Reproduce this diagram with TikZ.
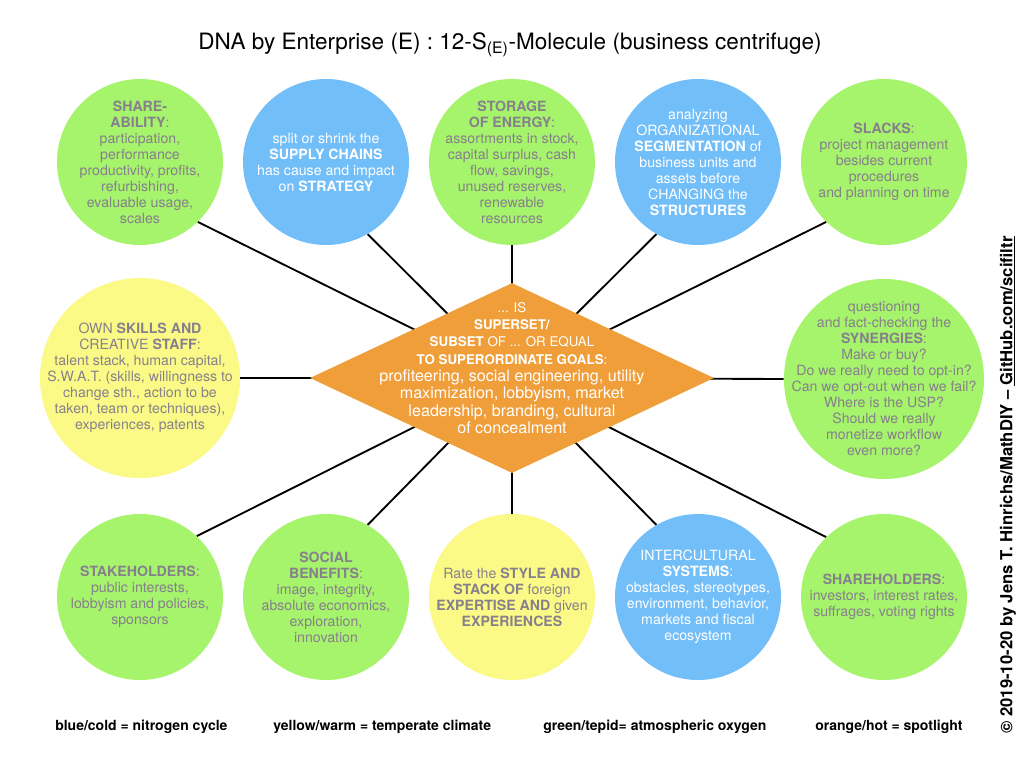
\documentclass[tikz,border=0pt]{standalone}
\usepackage{fontspec}
\setmainfont{TeX Gyre Heros}
\usetikzlibrary{shapes.geometric}
\pgfdeclarelayer{background}
\pgfsetlayers{background,main}
\definecolor{leaf}{RGB}{166,243,108}
\definecolor{sky}{RGB}{114,190,248}
\definecolor{sun}{RGB}{252,250,134}
\definecolor{amber}{RGB}{240,158,58}
\definecolor{ink}{RGB}{134,128,140}
\newcommand*\smallline{\fontsize{10}{13}\selectfont}
\newcommand*\bigline{\fontsize{12.1}{13.3}\selectfont}
\tikzset{
  disc/.style={circle, draw=none, inner sep=0pt, minimum size=124.5pt},
  bigdisc/.style={disc, minimum size=150pt},
  txt/.style={align=center, font=\fontsize{10.6}{12}\selectfont, text=ink, inner sep=0pt},
  wtxt/.style={txt, text=white},
  link/.style={line width=1.4pt, black},
  legend/.style={anchor=west, font=\fontsize{10.5}{12}\selectfont\bfseries, inner sep=0pt}
}
\begin{document}
\begin{tikzpicture}[x=0.75pt, y=-0.75pt]
\begin{pgfonlayer}{background}
  \fill[white] (0,0) rectangle (1024,768);
\end{pgfonlayer}
\useasboundingbox (0,0) rectangle (1024,768);

% title
\node[font=\fontsize{16.9}{20}\selectfont, inner sep=0pt] (title) at (510,45)
  {DNA by Enterprise (E) : 12-S\textsubscript{(E)}-Molecule (business centrifuge)};

% central diamond
\node[diamond, fill=amber, inner sep=0pt, minimum width=303pt, minimum height=142.5pt] (D) at (512,378) {};
\node[align=center, text=white, inner sep=0pt, font=\smallline] (Dt) at (512,368)
  {\smallline ... IS\\
   \smallline\textbf{SUPERSET/}\\
   \smallline\textbf{SUBSET} OF ... OR EQUAL\\
   \smallline\textbf{TO SUPERORDINATE GOALS}:\\
   \bigline profiteering, social engineering, utility\\
   \bigline maximization, lobbyism, market\\
   \bigline leadership, branding, cultural\\
   \bigline of concealment};

% top row
\node[disc, fill=leaf] (sh) at (140,162) {};
\node[txt] (sht) at (sh) {\textbf{SHARE-}\\\textbf{ABILITY}:\\participation,\\performance\\productivity, profits,\\refurbishing,\\evaluable usage,\\scales};

\node[disc, fill=sky] (sc) at (326,162) {};
\node[wtxt] (sct) at (sc) {split or shrink the\\\textbf{SUPPLY CHAINS}\\has cause and impact\\on \textbf{STRATEGY}};

\node[disc, fill=leaf] (st) at (512,162) {};
\node[txt] (stt) at (st) {\textbf{STORAGE}\\\textbf{OF ENERGY}:\\assortments in stock,\\capital surplus, cash\\flow, savings,\\unused reserves,\\renewable\\resources};

\node[disc, fill=sky] (sg) at (698,162) {};
\node[wtxt] (sgt) at (sg) {analyzing\\ORGANIZATIONAL\\\textbf{SEGMENTATION} of\\business units and\\assets before\\CHANGING the\\\textbf{STRUCTURES}};

\node[disc, fill=leaf] (sl) at (884,162) {};
\node[txt] (slt) at (sl) {\textbf{SLACKS}:\\project management\\besides current\\procedures\\and planning on time};

% middle row
\node[bigdisc, fill=sun] (sk) at (140,378) {};
\node[txt] (skt) at (sk) {OWN \textbf{SKILLS AND}\\CREATIVE \textbf{STAFF}:\\talent stack, human capital,\\S.W.A.T. (skills, willingness to\\change sth., action to be\\taken, team or techniques),\\experiences, patents};

\node[bigdisc, fill=leaf] (sy) at (884,379) {};
\node[txt] (syt) at (sy) {questioning\\and fact-checking the\\\textbf{SYNERGIES}:\\Make or buy?\\Do we really need to opt-in?\\Can we opt-out when we fail?\\Where is the USP?\\Should we really\\monetize workflow\\even more?};

% bottom row
\node[disc, fill=leaf] (shk) at (140,597) {};
\node[txt] (shkt) at (shk) {\textbf{STAKEHOLDERS}:\\public interests,\\lobbyism and policies,\\sponsors};

\node[disc, fill=leaf] (sb) at (326,597) {};
\node[txt] (sbt) at (sb) {\textbf{SOCIAL}\\\textbf{BENEFITS}:\\image, integrity,\\absolute economics,\\exploration,\\innovation};

\node[disc, fill=sun] (rs) at (512,597) {};
\node[txt] (rst) at (rs) {Rate the \textbf{STYLE AND}\\\textbf{STACK OF} foreign\\\textbf{EXPERTISE AND} given\\\textbf{EXPERIENCES}};

\node[disc, fill=sky] (ic) at (698,597) {};
\node[wtxt] (ict) at (ic) {INTERCULTURAL\\\textbf{SYSTEMS}:\\obstacles, stereotypes,\\environment, behavior,\\markets and fiscal\\ecosystem};

\node[disc, fill=leaf] (shh) at (884,597) {};
\node[txt] (shht) at (shh) {\textbf{SHAREHOLDERS}:\\investors, interest rates,\\suffrages, voting rights};

% spokes from the hub to every circle, kept behind the shapes
\begin{pgfonlayer}{background}
  \draw[link] (D.center) -- (sh.-46);
  \draw[link] (D.center) -- (sc.-60);
  \draw[link] (D.center) -- (st.-90);
  \draw[link] (D.center) -- (sg.-120);
  \draw[link] (D.center) -- (sl.-134);
  \draw[link] (D.center) -- (sk.0);
  \draw[link] (D.center) -- (sy.180);
  \draw[link] (D.center) -- (shk.47);
  \draw[link] (D.center) -- (sb.60);
  \draw[link] (D.center) -- (rs.90);
  \draw[link] (D.center) -- (ic.120);
  \draw[link] (D.center) -- (shh.134);
\end{pgfonlayer}

% colour legend
\node[legend] (l1) at (55,727) {blue/cold = nitrogen cycle};
\node[legend] (l2) at (273,727) {yellow/warm = temperate climate};
\node[legend] (l3) at (543,727) {green/tepid= atmospheric oxygen};
\node[legend] (l4) at (815,727) {orange/hot = spotlight};

% copyright line
\node[rotate=90, font=\fontsize{12.5}{14}\selectfont\bfseries, inner sep=0pt] (copy) at (1008,485)
  {© 2019-10-20 by Jens T. Hinrichs/MathDIY – \underline{GitHub.com/scifiltr}};
\end{tikzpicture}
\end{document}
